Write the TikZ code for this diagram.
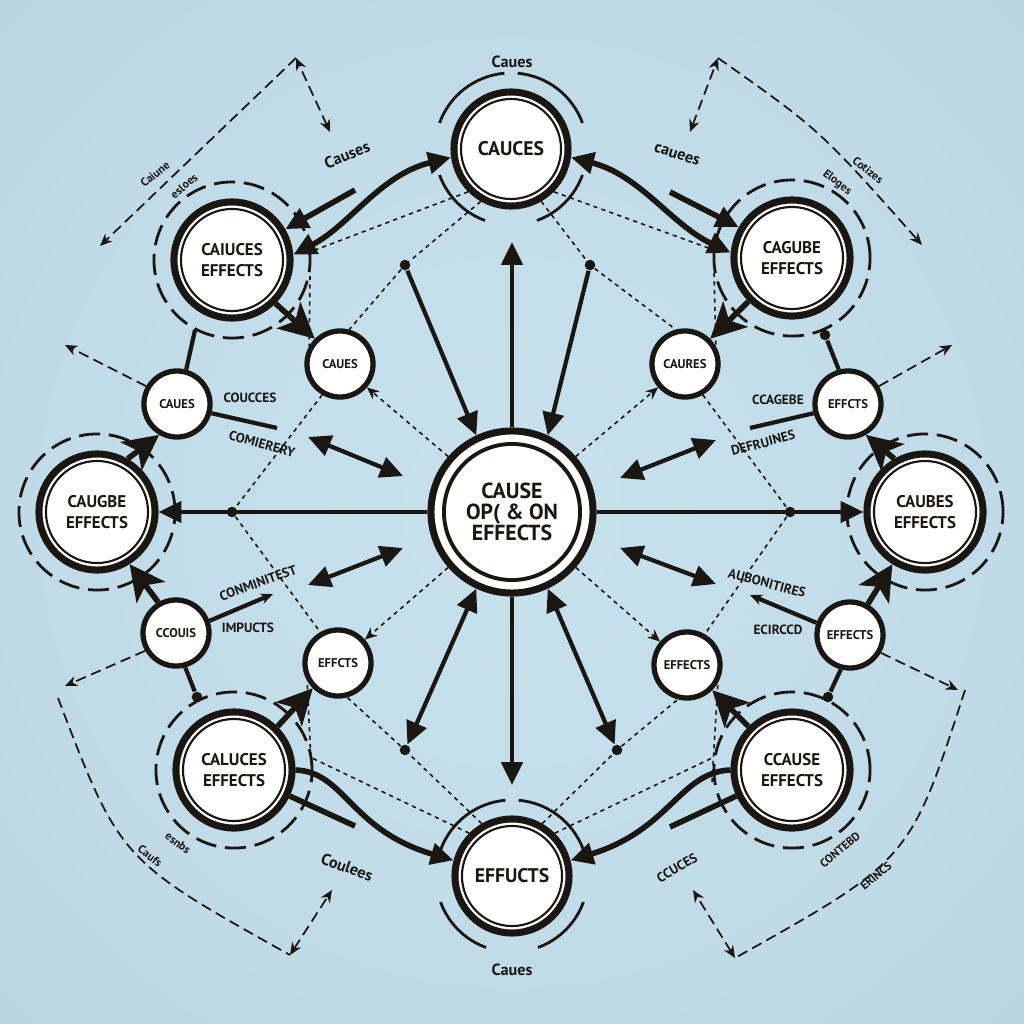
\documentclass[tikz,border=0pt]{standalone}
\usepackage{fontspec}
\setmainfont{PT Sans}
\usetikzlibrary{arrows.meta,calc}
\definecolor{ink}{RGB}{26,22,18}
\definecolor{bgin}{RGB}{200,225,237}
\definecolor{bgmida}{RGB}{192,218,232}
\definecolor{bgmidb}{RGB}{178,204,220}
\definecolor{bgout}{RGB}{158,185,202}
\pgfdeclareradialshading{bgshade}{\pgfpoint{0bp}{0bp}}{color(0bp)=(bgin); color(25bp)=(bgmida); color(48bp)=(bgmidb); color(71bp)=(bgout)}
\tikzset{
  cnode/.style={circle, draw=ink, line width=2pt, fill=white, minimum size=1.62cm, inner sep=0pt, align=center,
    font=\bfseries\fontsize{6.2}{5.9}\selectfont, text=ink,
    path picture={\draw[ink,line width=1.1pt] (path picture bounding box.center) circle (0.68cm);}},
  tbnode/.style={circle, draw=ink, line width=2pt, fill=white, minimum size=1.14cm, inner sep=0pt, align=center,
    font=\bfseries\fontsize{5.6}{6}\selectfont, text=ink,
    path picture={\draw[ink,line width=0.6pt] (path picture bounding box.center) circle (0.5cm);}},
  bignode/.style={circle, draw=ink, line width=2pt, fill=white, minimum size=1.16cm, inner sep=0pt, align=center,
    font=\bfseries\fontsize{4.8}{5.8}\selectfont, text=ink,
    path picture={\draw[ink,line width=0.6pt] (path picture bounding box.center) circle (0.51cm);}},
  smallnode/.style={circle, draw=ink, line width=1.5pt, fill=white, minimum size=0.66cm, inner sep=0pt, align=center,
    font=\bfseries\fontsize{3.6}{4}\selectfont, text=ink},
  dotnode/.style={circle, fill=ink, inner sep=0pt, minimum size=3pt},
  lab/.style={font=\bfseries\fontsize{3.8}{4.2}\selectfont, text=ink, inner sep=0pt, align=center},
  lab2/.style={font=\bfseries\fontsize{3.3}{4}\selectfont, text=ink, inner sep=0pt},
  labl/.style={font=\bfseries\fontsize{4.6}{4.8}\selectfont, text=ink, inner sep=0pt, align=center},
  spoke/.style={draw=ink, line width=1.2pt},
  thickline/.style={draw=ink, line width=1.6pt},
  dotline/.style={draw=ink, line width=0.45pt, dash pattern=on 1.2pt off 1.2pt},
  dashline/.style={draw=ink, line width=0.5pt, dash pattern=on 3pt off 1.6pt},
  ringline/.style={draw=ink, line width=0.8pt, dash pattern=on 6pt off 2.5pt},
  arcline/.style={draw=ink, line width=0.8pt},
  hd/.style={-{Triangle[length=6.5pt,width=6pt]}},
  hdd/.style={{Triangle[length=6.5pt,width=6pt]}-{Triangle[length=6.5pt,width=6pt]}},
  bighd/.style={-{Stealth[length=10pt,width=10pt,inset=2.5pt]}},
  sh/.style={-{Stealth[length=3.5pt,width=3pt]}},
  shh/.style={{Stealth[length=3.5pt,width=3pt]}-{Stealth[length=3.5pt,width=3pt]}}
}
\begin{document}
\begin{tikzpicture}[x=0.01cm,y=-0.01cm]
\useasboundingbox (0,0) rectangle (1024,1024);
\shade[shading=bgshade] (0,0) rectangle (1024,1024);

% ---------- nodes ----------
\node[cnode] (C) at (512,512) {CAUSE\\OP( \& ON\\EFFECTS};
\node[tbnode] (T) at (511,149) {CAUCES};
\node[tbnode] (B) at (512,876) {EFFUCTS};
\node[bignode] (L) at (97,512) {CAUGBE\\EFFECTS};
\node[bignode] (R) at (925,512) {CAUBES\\EFFECTS};
\node[bignode] (TL) at (232,260) {CAIUCES\\EFFECTS};
\node[bignode] (TR) at (792,258) {CAGUBE\\EFFECTS};
\node[bignode] (BL) at (234,770) {CALUCES\\EFFECTS};
\node[bignode] (BR) at (792,770) {CCAUSE\\EFFECTS};
\node[smallnode] (s1) at (340,364) {CAUES};
\node[smallnode] (s2) at (177,404) {CAUES};
\node[smallnode] (s3) at (685,364) {CAURES};
\node[smallnode] (s4) at (848,404) {EFFCTS};
\node[smallnode] (s5) at (176,633) {CCOUIS};
\node[smallnode] (s6) at (338,663) {EFFCTS};
\node[smallnode] (s7) at (687,665) {EFFECTS};
\node[smallnode] (s8) at (850,635) {EFFECTS};

% dots
\node[dotnode] (d1) at (405,265) {};
\node[dotnode] (d2) at (590,265) {};
\node[dotnode] (d3) at (405,750) {};
\node[dotnode] (d4) at (617,750) {};
\node[dotnode] (dL) at (232,512) {};
\node[dotnode] (dR) at (790,512) {};
\node[dotnode] (dTR) at (825,335) {};
\node[dotnode] (dBL) at (197,697) {};
\node[dotnode] (dBR) at (828,697) {};

% coordinates
\coordinate (tup) at (512,242);
\coordinate (bdn) at (512,785);
\coordinate (a1) at (308,437); \coordinate (a2) at (403,476);
\coordinate (a3) at (308,585); \coordinate (a4) at (403,548);
\coordinate (a5) at (620,478); \coordinate (a6) at (716,440);
\coordinate (a7) at (620,548); \coordinate (a8) at (716,584);
\coordinate (k1) at (355,190); \coordinate (k2) at (670,192);
\coordinate (k3) at (355,826); \coordinate (k4) at (670,827);
\coordinate (k5) at (277,428); \coordinate (k6) at (750,428);
\coordinate (k7) at (273,594); \coordinate (k8) at (750,595);
\coordinate (e1) at (65,345); \coordinate (e2) at (952,345);
\coordinate (e3) at (65,686); \coordinate (e4) at (958,690);
\coordinate (r1) at (195,330);
\coordinate (o1) at (296,58); \coordinate (o1a) at (330,132); \coordinate (o1b) at (100,246);
\coordinate (o2) at (718,58); \coordinate (o2a) at (690,132); \coordinate (o2b) at (922,245);
\coordinate (o3) at (290,955); \coordinate (o3a) at (332,890); \coordinate (o3s) at (58,698);
\coordinate (o4) at (735,958); \coordinate (o4a) at (693,890); \coordinate (o4s) at (965,690);
\coordinate (l1) at (310,252); \coordinate (l2) at (310,276);
\coordinate (l3) at (714,250); \coordinate (l4) at (714,273);
\coordinate (l5) at (312,758); \coordinate (l6) at (312,782);
\coordinate (l7) at (712,758); \coordinate (l8) at (712,782);

% ---------- rings ----------
\foreach \n in {TL,TR,BL,BR,L,R}{\draw[ringline] (\n.center) circle (0.78cm);}
\foreach \a/\b in {95/160,20/85,200/250,290/340}{
  \draw[arcline] (T.center) ++(\a:0.76cm) arc[start angle=\a, end angle=\b, radius=0.76cm];
  \draw[arcline] (B.center) ++(\a:0.76cm) arc[start angle=\a, end angle=\b, radius=0.76cm];}

% ---------- dotted lattice ----------
\draw[dotline] (T.225) -- (l1);
\draw[dotline] (T.240) -- (d1) -- (s1.75);
\draw[dotline] (l2) -- (s1.150);
\draw[dotline] (T.-45) -- (l3);
\draw[dotline] (T.-60) -- (d2) -- (s3.105);
\draw[dotline] (l4) -- (s3.30);
\draw[dotline] (B.135) -- (l5);
\draw[dotline] (B.120) -- (d3) -- (s6.-75);
\draw[dotline] (l6) -- (s6.-150);
\draw[dotline] (B.45) -- (l7);
\draw[dotline] (B.60) -- (d4) -- (s7.-105);
\draw[dotline] (l8) -- (s7.-30);
\draw[dotline] (s1.240) -- (dL) -- (s6.120);
\draw[dotline] (s3.300) -- (dR) -- (s7.60);
\draw[dotline,sh] (C.139) -- (s1.-41);
\draw[dotline,sh] (C.41) -- (s3.-139);
\draw[dotline,sh] (C.221) -- (s6.41);
\draw[dotline,sh] (C.-41) -- (s7.139);

% ---------- spokes ----------
\draw[spoke,hd] (C.west) -- (L.east);
\draw[spoke,hd] (C.east) -- (R.west);
\draw[spoke,hd] (C.north) -- (tup);
\draw[spoke,hd] (C.south) -- (bdn);
\draw[spoke,hd] (d1) -- (C.115);
\draw[spoke,hd] (d2) -- (C.65);
\draw[spoke,hdd] (d3) -- (C.245);
\draw[spoke,hdd] (d4) -- (C.295);
\draw[spoke,hdd] (a1) -- (a2);
\draw[spoke,hdd] (a3) -- (a4);
\draw[spoke,hdd] (a5) -- (a6);
\draw[spoke,hdd] (a7) -- (a8);

% ---------- curves to top / bottom ----------
\draw[thickline,hdd] (TL.5) .. controls (350,225) and (380,175) .. (T.188);
\draw[thickline,hd] (k1) -- (TL.30);
\draw[thickline,hdd] (TR.175) .. controls (672,225) and (640,175) .. (T.-8);
\draw[thickline,hd] (k2) -- (TR.150);
\draw[thickline,hd] (BL.east) .. controls (345,772) and (350,830) .. (B.165);
\draw[thickline] (BL.-25) -- (k3);
\draw[thickline,hd] (BR.180) .. controls (680,772) and (670,830) .. (B.15);
\draw[thickline] (BR.205) -- (k4);

% ---------- big nodes to small nodes ----------
\draw[thickline,bighd] (TL.-45) -- (s1.135);
\draw[thickline,bighd] (TR.225) -- (s3.45);
\draw[thickline,bighd] (BL.45) -- (s6.225);
\draw[thickline,bighd] (BR.135) -- (s7.-45);
\draw[thickline,bighd] (L.60) -- (s2.240);
\draw[thickline,bighd] (s5.120) -- (L.-58);
\draw[thickline,bighd] (R.120) -- (s4.-60);
\draw[thickline,bighd] (s8.60) -- (R.-122);

% ---------- small node lines ----------
\draw[spoke] (s2.75) -- (r1);
\draw[spoke] (s2.-15) -- (k5);
\draw[spoke] (s4.105) -- (dTR);
\draw[spoke] (s4.195) -- (k6);
\draw[spoke,sh] (s5.20) -- (k7);
\draw[spoke] (s5.-75) -- (dBL);
\draw[spoke,sh] (s8.160) -- (k8);
\draw[spoke] (s8.-105) -- (dBR);
\draw[dashline,sh] (s2.150) -- (e1);
\draw[dashline,sh] (s4.30) -- (e2);
\draw[dashline,sh] (s5.210) -- (e3);
\draw[dashline,sh] (s8.-30) -- (e4);

% ---------- outer dashed arrows ----------
\draw[dashline,shh] (o1a) -- (o1);
\draw[dashline,sh] (o1) -- (o1b);
\draw[dashline,shh] (o2a) -- (o2);
\draw[dashline,sh] (o2) .. controls (820,130) .. (o2b);
\draw[dashline,shh] (o3) -- (o3a);
\draw[dashline] (o3s) .. controls (120,860) .. (o3);
\draw[dashline,shh] (o4) -- (o4a);
\draw[dashline] (o4s) .. controls (910,860) .. (o4);

% ---------- labels ----------
\node[labl] (t1) at (512,62) {Caues};
\node[labl] (t2) at (512,970) {Caues};
\node[labl,rotate=22] (t3) at (347,155) {Causes};
\node[lab2,rotate=40] (t4a) at (155,174) {Caiune};
\node[lab2,rotate=40] (t4b) at (184,186) {esloes};
\node[labl,rotate=-18] (t5) at (677,155) {cauees};
\node[lab2,rotate=-38] (t6a) at (868,170) {Cotizes};
\node[lab2,rotate=-38] (t6b) at (837,183) {Eloges};
\node[lab] (t7) at (250,398) {COUCCES};
\node[lab,rotate=-15] (t8) at (262,444) {COMIERERY};
\node[lab] (t9) at (778,400) {CCAGEBE};
\node[lab,rotate=15] (t10) at (763,443) {DEFRUINES};
\node[lab,rotate=20] (t11) at (258,583) {CONMINITEST};
\node[lab] (t12) at (248,628) {IMPUCTS};
\node[lab,rotate=-15] (t13) at (767,583) {AUBONITIRES};
\node[lab] (t14) at (778,630) {ECIRCCD};
\node[lab2,rotate=-38] (t15a) at (178,843) {esnbs};
\node[lab2,rotate=-38] (t15b) at (150,856) {Caufs};
\node[labl,rotate=-20] (t16) at (347,867) {Coulees};
\node[lab,rotate=30] (t17) at (677,868) {CCUCES};
\node[lab2,rotate=40] (t18a) at (840,850) {CONTEBD};
\node[lab2,rotate=40] (t18b) at (876,876) {ERINCS};
\end{tikzpicture}
\end{document}
